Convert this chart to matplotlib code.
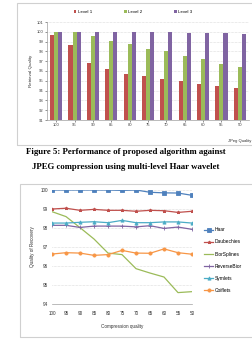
import matplotlib
matplotlib.use('Agg')
import matplotlib.pyplot as plt
import numpy as np
from matplotlib.patches import Rectangle

W, H = 252, 340

# data
jpeg_quality = [100, 95, 90, 85, 80, 75, 70, 65, 60, 55, 50]
level1 = [99.63, 98.7, 96.8, 96.2, 95.7, 95.45, 95.2, 94.97, 94.7, 94.45, 94.25]
level2 = [100.0, 99.97, 99.6, 99.05, 98.8, 98.25, 98.05, 97.5, 97.25, 96.7, 96.4]
level3 = [100.0, 100.0, 100.0, 100.0, 100.0, 100.0, 100.0, 99.9, 99.9, 99.9, 99.73]

haar = [100.0, 100.0, 100.0, 100.0, 100.0, 99.98, 100.0, 99.88, 99.85, 99.84, 99.72]
daubechies = [99.0, 99.04, 98.93, 98.98, 98.93, 98.93, 98.88, 98.93, 98.91, 98.82, 98.88]
biorsplines = [98.86, 98.6, 98.02, 97.42, 96.68, 96.6, 95.86, 95.63, 95.42, 94.6, 94.65]
reversebior = [98.14, 98.14, 98.03, 98.1, 98.1, 98.1, 98.06, 98.12, 97.98, 98.05, 97.93]
symlets = [98.26, 98.26, 98.3, 98.33, 98.28, 98.4, 98.28, 98.28, 98.32, 98.32, 98.26]
coiflets = [96.63, 96.7, 96.68, 96.56, 96.6, 96.82, 96.68, 96.67, 96.9, 96.7, 96.62]

RED = '#C0504D'
GREEN = '#9BBB59'
PURPLE = '#8064A2'
BLUE = '#4F81BD'
AQUA = '#4BACC6'
ORANGE = '#F79646'
FRAME = '#D0D0D0'
GRID = '#BFBFBF'

plt.rcParams['font.family'] = ['Liberation Sans', 'DejaVu Sans']

fig = plt.figure(figsize=(W / 100, H / 100), dpi=100)


def box(x0, y0, x1, y1):
    # pixel coords from top-left
    return [x0 / W, 1 - y1 / H, (x1 - x0) / W, (y1 - y0) / H]


# frames around both charts
fig.patches.append(Rectangle((17 / W, 1 - 145 / H), 240 / W, 142 / H,
                             transform=fig.transFigure, fill=False,
                             edgecolor=FRAME, lw=0.8))
fig.patches.append(Rectangle((20 / W, 1 - 337 / H), 240 / W, 153 / H,
                             transform=fig.transFigure, fill=False,
                             edgecolor=FRAME, lw=0.8))

# === top: bar chart ===
ax1 = fig.add_axes(box(47, 22, 249, 120))
x = np.arange(len(jpeg_quality))
bw = 0.22
for off, vals, col, lab in [(-bw, level1, RED, 'Level 1'),
                            (0, level2, GREEN, 'Level 2'),
                            (bw, level3, PURPLE, 'Level 3')]:
    ax1.bar(x + off, np.array(vals) - 91, bw, bottom=91, color=col,
            label=lab, edgecolor='none')
ax1.set_xlim(-0.5, len(x) - 0.5)
ax1.set_ylim(91, 101)
ax1.set_yticks(range(91, 102))
ax1.set_xticks(x)
ax1.set_xticklabels(jpeg_quality)
ax1.tick_params(labelsize=3, length=1.5, width=0.4, colors='#404040', pad=1)
ax1.yaxis.grid(True, color=GRID, lw=0.4, ls=(0, (1, 1.5)))
ax1.set_axisbelow(True)
for s in ['top', 'right']:
    ax1.spines[s].set_visible(False)
for s in ['left', 'bottom']:
    ax1.spines[s].set_color('#A0A0A0')
    ax1.spines[s].set_linewidth(0.5)
ax1.set_ylabel('Retrieval Quality', fontsize=3.2, labelpad=3, color='#303030')
fig.text(240 / W, 1 - 141 / H, 'JPeg Quality', fontsize=3, ha='center',
         va='center', color='#303030')
fig.legend(*ax1.get_legend_handles_labels(), loc='center', ncol=3,
           bbox_to_anchor=(133 / W, 1 - 12 / H), fontsize=3.2, frameon=False,
           handlelength=0.6, handleheight=0.6, handletextpad=0.3,
           columnspacing=7.2)

# caption
fig.text(0.5, 1 - 152 / H,
         'Figure 5: Performance of proposed algorithm against',
         family='Liberation Serif', fontweight='bold', fontsize=6.3,
         ha='center', va='center')
fig.text(0.5, 1 - 167 / H,
         'JPEG compression using multi-level Haar wavelet',
         family='Liberation Serif', fontweight='bold', fontsize=6.3,
         ha='center', va='center')

# === bottom: line chart ===
ax2 = fig.add_axes(box(52, 190, 192, 304))
series = [('Haar', haar, BLUE, 's'),
          ('Daubechies', daubechies, RED, '*'),
          ('BiorSplines', biorsplines, GREEN, None),
          ('ReverseBior', reversebior, PURPLE, '+'),
          ('Symlets', symlets, AQUA, '^'),
          ('Coiflets', coiflets, ORANGE, 'o')]
for name, vals, col, mk in series:
    ax2.plot(x, vals, color=col, lw=0.9, marker=mk, ms=2.3, mew=0.6,
             label=name)
ax2.set_xlim(0, len(x) - 1)
ax2.set_ylim(94, 100)
ax2.set_yticks(range(94, 101))
ax2.set_xticks(x)
ax2.set_xticklabels(jpeg_quality)
ax2.tick_params(labelsize=3.3, length=0, colors='#303030', pad=5)
ax2.tick_params(axis='y', pad=3)
ax2.yaxis.grid(True, color=GRID, lw=0.4, ls=(0, (1, 1.5)))
ax2.set_axisbelow(True)
for s in ['top', 'right', 'left']:
    ax2.spines[s].set_visible(False)
ax2.spines['bottom'].set_color('#A0A0A0')
ax2.spines['bottom'].set_linewidth(0.5)
ax2.set_ylabel('Quality of Recovery', fontsize=3.3, labelpad=4, color='#303030')
ax2.set_xlabel('Compression quality', fontsize=3.3, labelpad=6, color='#303030')
fig.legend(*ax2.get_legend_handles_labels(), loc='upper left',
           bbox_to_anchor=(202 / W, 1 - 225 / H), fontsize=3.5, frameon=False,
           handlelength=1.8, handletextpad=0.3, labelspacing=1.45,
           borderpad=0)

fig.savefig('out.png', dpi=100, facecolor='white')
